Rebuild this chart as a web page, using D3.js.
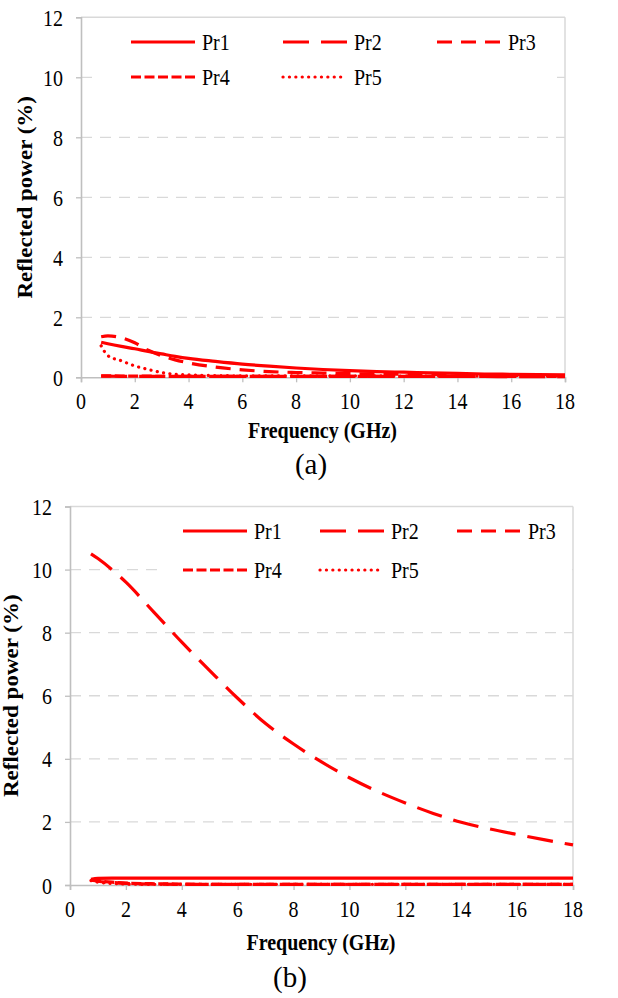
<!DOCTYPE html>
<html><head><meta charset="utf-8">
<script src="https://cdn.jsdelivr.net/npm/d3@7"></script>
<style>body{margin:0;background:#fff} svg{display:block}</style>
</head><body>
<svg id="c" width="618" height="998" font-family="Liberation Serif"></svg>
<script>
// ---------- data ----------
const seriesNames = ["Pr1", "Pr2", "Pr3", "Pr4", "Pr5"];
const xTickValues = [0, 2, 4, 6, 8, 10, 12, 14, 16, 18];
const yTickValues = [0, 2, 4, 6, 8, 10, 12];

// panel (a)
const freqA = [0.75, 1, 1.5, 2, 2.5, 3, 3.5, 4, 5, 6, 7, 8, 9, 10, 11, 12, 13, 14, 15, 16, 17, 18];
const a_Pr1 = [1.17, 1.12, 1.03, 0.95, 0.86, 0.78, 0.70, 0.63, 0.53, 0.44, 0.37, 0.31, 0.26, 0.22, 0.19, 0.17, 0.15, 0.13, 0.11, 0.10, 0.09, 0.08];
const a_Pr2 = [0.04, 0.04, 0.03, 0.03, 0.03, 0.03, 0.03, 0.03, 0.03, 0.03, 0.03, 0.03, 0.03, 0.03, 0.03, 0.03, 0.03, 0.03, 0.03, 0.02, 0.02, 0.02];
const a_Pr3 = [1.35, 1.38, 1.32, 1.15, 0.90, 0.72, 0.58, 0.48, 0.34, 0.25, 0.19, 0.16, 0.14, 0.12, 0.11, 0.10, 0.09, 0.08, 0.08, 0.07, 0.06, 0.06];
const a_Pr4 = [0.05, 0.05, 0.04, 0.04, 0.04, 0.03, 0.03, 0.03, 0.03, 0.03, 0.03, 0.03, 0.03, 0.03, 0.03, 0.03, 0.03, 0.03, 0.03, 0.03, 0.03, 0.03];
const a_Pr5 = [1.05, 0.72, 0.55, 0.38, 0.26, 0.16, 0.10, 0.08, 0.06, 0.05, 0.05, 0.05, 0.05, 0.05, 0.05, 0.04, 0.04, 0.04, 0.04, 0.04, 0.04, 0.04];

// panel (b)
const freqB = [0.75, 1, 1.5, 2, 3, 4, 5, 6, 7, 8, 9, 10, 11, 12, 13, 14, 15, 16, 17, 18];
const b_Pr1 = [0.18, 0.21, 0.22, 0.22, 0.22, 0.22, 0.22, 0.22, 0.22, 0.22, 0.22, 0.22, 0.22, 0.22, 0.22, 0.22, 0.22, 0.22, 0.22, 0.22];
const b_Pr2 = [10.5, 10.35, 10.0, 9.6, 8.65, 7.7, 6.8, 5.92, 5.12, 4.47, 3.9, 3.4, 2.97, 2.6, 2.27, 1.99, 1.78, 1.6, 1.43, 1.27];
const b_Pr3 = [0.15, 0.12, 0.08, 0.05, 0.03, 0.02, 0.02, 0.02, 0.02, 0.02, 0.02, 0.02, 0.02, 0.02, 0.02, 0.02, 0.02, 0.02, 0.02, 0.02];
const b_Pr4 = [0.17, 0.13, 0.09, 0.06, 0.04, 0.03, 0.02, 0.02, 0.02, 0.02, 0.02, 0.02, 0.02, 0.02, 0.02, 0.02, 0.02, 0.02, 0.02, 0.02];
const b_Pr5 = [0.14, 0.09, 0.05, 0.03, 0.02, 0.02, 0.02, 0.02, 0.02, 0.02, 0.02, 0.02, 0.02, 0.02, 0.02, 0.02, 0.02, 0.02, 0.02, 0.02];

// ---------- styles ----------
const RED = "#ff0000";
const dashStyles = ["none", "26,12", "15,9", "10,3.5", "0.1,6.3"];
const capStyles = ["butt", "butt", "butt", "butt", "round"];
const FONT = "Liberation Serif";
const VS = 1.15; // vertical stretch of the reference image

const svg = d3.select("#c");

function txt(g, x, y, s, o = {}) {
  return g.append("text")
    .attr("transform", `translate(${x},${y}) scale(1,${o.vs === undefined ? VS : o.vs})`)
    .attr("text-anchor", o.anchor || "start")
    .attr("font-family", FONT)
    .attr("font-size", o.size || 20)
    .attr("font-weight", o.bold ? "bold" : "normal")
    .attr("fill", "#000")
    .text(s);
}

function drawPanel(P, freq, seriesVals) {
  const g = svg.append("g");
  const x = d3.scaleLinear().domain([0, 18]).range([P.left, P.right]);
  const y = d3.scaleLinear().domain([0, 12]).range([P.bottom, P.top]);

  // gridlines
  g.selectAll(".grid").data(yTickValues.filter(v => v > 0 && v < 12)).enter()
    .append("line")
    .attr("x1", P.left).attr("x2", P.right)
    .attr("y1", d => y(d)).attr("y2", d => y(d))
    .attr("stroke", "#d9d9d9").attr("stroke-width", 1.3)
    .attr("stroke-dasharray", "11,8");

  // plot border (top and right)
  g.append("line").attr("x1", P.left).attr("x2", P.right).attr("y1", y(12)).attr("y2", y(12))
    .attr("stroke", "#d9d9d9").attr("stroke-width", 1.5);
  g.append("line").attr("x1", P.right).attr("x2", P.right).attr("y1", y(12)).attr("y2", y(0))
    .attr("stroke", "#d9d9d9").attr("stroke-width", 1.5);

  // axes
  const xAxis = d3.axisBottom(x).tickValues(xTickValues).tickSize(5).tickFormat("");
  const yAxis = d3.axisLeft(y).tickValues(yTickValues).tickSize(5).tickFormat("");
  const gx = g.append("g").attr("transform", `translate(0,${P.bottom})`).call(xAxis);
  const gy = g.append("g").attr("transform", `translate(${P.left},0)`).call(yAxis);
  [gx, gy].forEach(a => {
    a.select(".domain").attr("stroke", "#bfbfbf").attr("stroke-width", 1.6);
    a.selectAll(".tick line").attr("stroke", "#bfbfbf").attr("stroke-width", 1.3);
  });

  // tick labels
  xTickValues.forEach(v => txt(g, x(v), P.bottom + 32, String(v), { anchor: "middle" }));
  yTickValues.forEach(v => txt(g, P.left - 18, y(v) + 8.5, String(v), { anchor: "end" }));

  // axis titles
  txt(g, (P.left + P.right) / 2 - 0.5, P.bottom + P.xTitleDy, "Frequency (GHz)", { anchor: "middle", bold: true });
  g.append("text")
    .attr("transform", `translate(${P.yTitleX},${(P.top + P.bottom) / 2}) rotate(-90) scale(${VS},1)`)
    .attr("text-anchor", "middle").attr("font-family", FONT).attr("font-size", 20)
    .attr("font-weight", "bold").text("Reflected power (%)");

  // lines
  const line = d3.line().x(d => x(d[0])).y(d => y(d[1])).curve(d3.curveMonotoneX);
  seriesVals.forEach((vals, i) => {
    const pts = freq.map((f, k) => [f, vals[k]]);
    g.append("path").attr("d", line(pts))
      .attr("fill", "none").attr("stroke", RED).attr("stroke-width", 3.2)
      .attr("stroke-dasharray", dashStyles[i]).attr("stroke-linecap", capStyles[i]);
  });

  // legend
  const lb = P.legendBox;
  g.append("rect").attr("x", lb[0]).attr("y", lb[1]).attr("width", lb[2] - lb[0]).attr("height", lb[3] - lb[1])
    .attr("fill", "#fff");
  seriesNames.forEach((name, i) => {
    const col = i % 3, row = Math.floor(i / 3);
    const lx = P.legendCols[col], ly = P.legendRows[row];
    g.append("line").attr("x1", lx).attr("x2", lx + 64).attr("y1", ly).attr("y2", ly)
      .attr("stroke", RED).attr("stroke-width", 3.2)
      .attr("stroke-dasharray", dashStyles[i]).attr("stroke-linecap", capStyles[i]);
    txt(g, lx + 71, ly + 7.5, name);
  });

  // caption
  txt(g, P.capX, P.capY, P.caption, { anchor: "middle", size: 29, vs: 1 });
}

drawPanel({
  left: 81, right: 565, top: 17.3, bottom: 377.3,
  xTitleDy: 61, yTitleX: 32,
  legendBox: [100, 22, 557, 95], legendRows: [42, 77], legendCols: [131, 283, 437],
  caption: "(a)", capX: 311, capY: 474
}, freqA, [a_Pr1, a_Pr2, a_Pr3, a_Pr4, a_Pr5]);

drawPanel({
  left: 70, right: 573, top: 506.5, bottom: 885,
  xTitleDy: 64.5, yTitleX: 18,
  legendBox: [160, 510, 572, 592], legendRows: [531, 570], legendCols: [183, 320, 457],
  caption: "(b)", capX: 290, capY: 987
}, freqB, [b_Pr1, b_Pr2, b_Pr3, b_Pr4, b_Pr5]);
</script>
</body></html>
